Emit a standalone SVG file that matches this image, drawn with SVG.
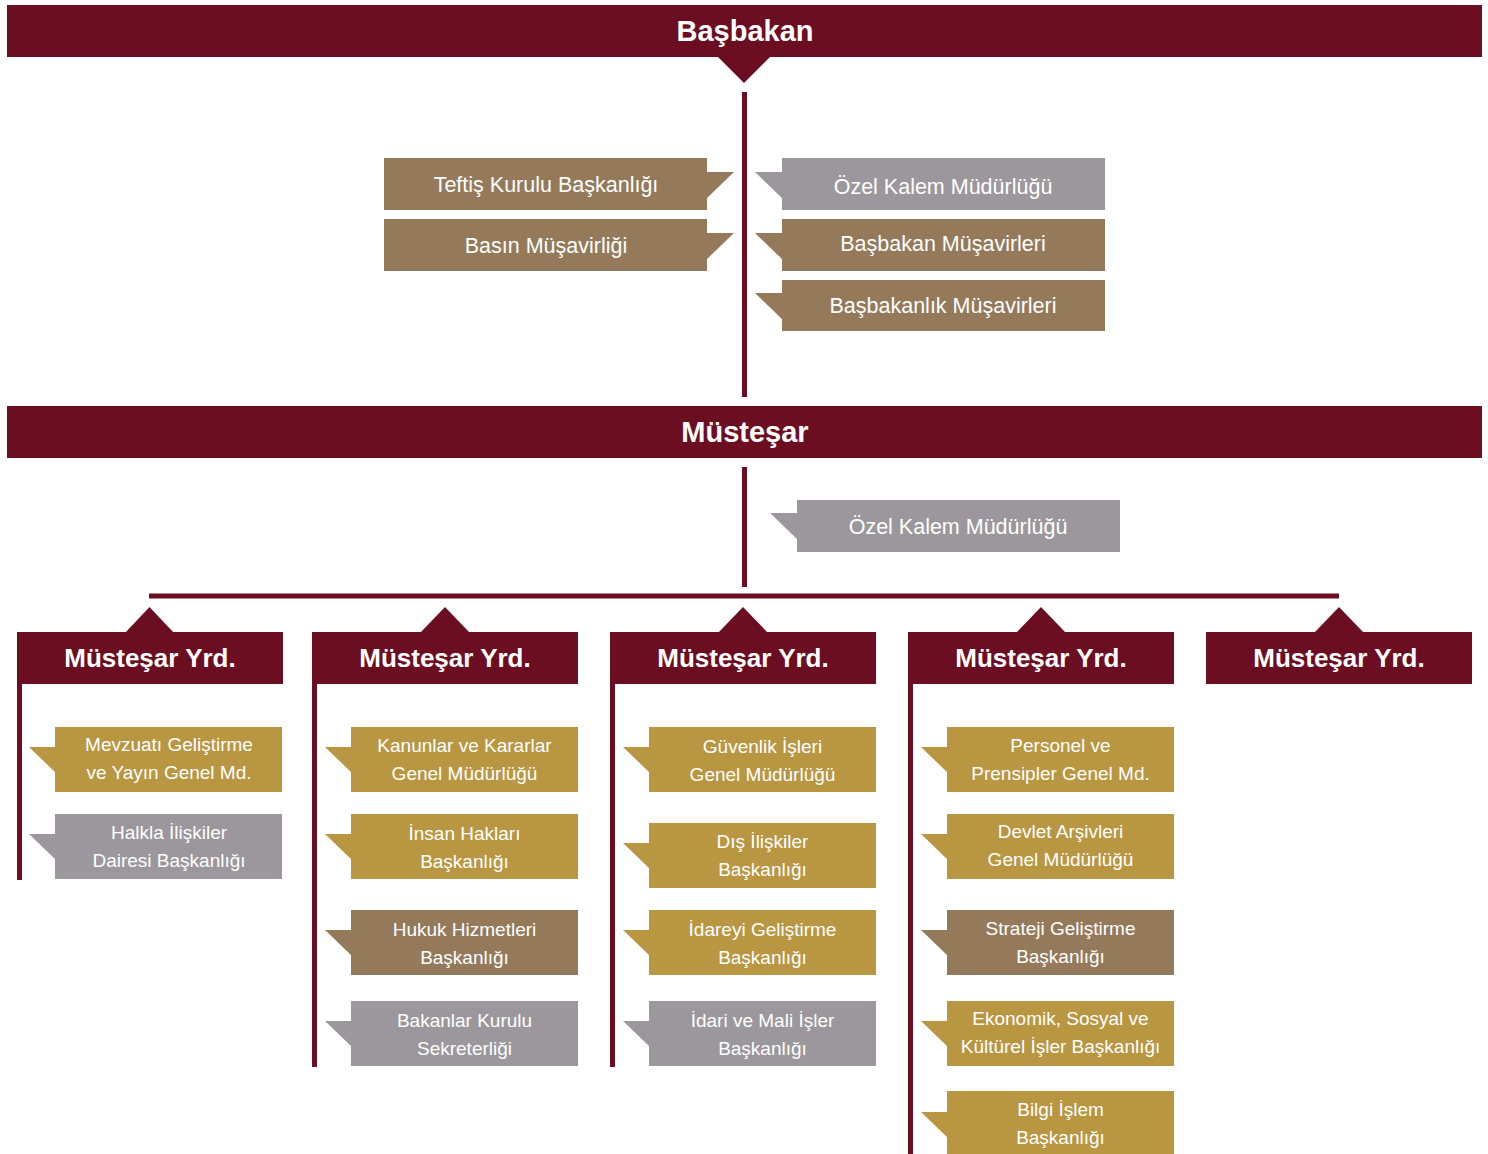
<svg xmlns="http://www.w3.org/2000/svg" width="1488" height="1154" viewBox="0 0 1488 1154">
<style>
.m{fill:#6C0E22}
.tan{fill:#947A5B}
.gray{fill:#9B979C}
.gold{fill:#B99641}
.ln{stroke:#6C0E22;stroke-width:5;fill:none}
text{font-family:"Liberation Sans",Arial,sans-serif;fill:#fff;text-anchor:middle}
.hb{font-size:29px;font-weight:bold}
.hy{font-size:26px;font-weight:bold}
.t1{font-size:21.5px}
.t2{font-size:19px}
</style>
<rect width="1488" height="1154" fill="#fff"/>
<g id="connectors">
<line class="ln" x1="744.5" y1="92" x2="744.5" y2="397"/>
<line class="ln" x1="744.5" y1="467" x2="744.5" y2="587"/>
<line class="ln" x1="149" y1="596" x2="1339" y2="596"/>
<line class="ln" x1="19.5" y1="684" x2="19.5" y2="880"/>
<line class="ln" x1="314.5" y1="684" x2="314.5" y2="1067"/>
<line class="ln" x1="612.5" y1="684" x2="612.5" y2="1067"/>
<line class="ln" x1="910.5" y1="684" x2="910.5" y2="1154"/>
</g>
<g id="basbakan">
<rect class="m" x="7" y="5" width="1475" height="52"/>
<polygon class="m" points="717,56 771,56 744,83"/>
<text class="hb" x="745" y="41">Başbakan</text>
</g>
<g id="teftis">
<rect class="tan" x="384" y="158" width="323" height="52"/>
<polygon class="tan" points="706,172 734,172 706,199"/>
<text class="t1" x="546" y="192">Teftiş Kurulu Başkanlığı</text>
</g>
<g id="basin">
<rect class="tan" x="384" y="219" width="323" height="52"/>
<polygon class="tan" points="706,233 734,233 706,260"/>
<text class="t1" x="546" y="253">Basın Müşavirliği</text>
</g>
<g id="ozelkalem1">
<rect class="gray" x="782" y="158" width="323" height="52"/>
<polygon class="gray" points="783,172 755,172 783,199"/>
<text class="t1" x="943" y="194">Özel Kalem Müdürlüğü</text>
</g>
<g id="bbmusavir">
<rect class="tan" x="782" y="219" width="323" height="52"/>
<polygon class="tan" points="783,233 755,233 783,260"/>
<text class="t1" x="943" y="251">Başbakan Müşavirleri</text>
</g>
<g id="bblikmusavir">
<rect class="tan" x="782" y="280" width="323" height="51"/>
<polygon class="tan" points="783,293 755,293 783,320"/>
<text class="t1" x="943" y="313">Başbakanlık Müşavirleri</text>
</g>
<g id="mustesar">
<rect class="m" x="7" y="406" width="1475" height="52"/>
<text class="hb" x="745" y="442">Müsteşar</text>
</g>
<g id="ozelkalem2">
<rect class="gray" x="797" y="500" width="323" height="52"/>
<polygon class="gray" points="798,513 770,513 798,540"/>
<text class="t1" x="958" y="534">Özel Kalem Müdürlüğü</text>
</g>
<g id="yrd1">
<rect class="m" x="17" y="632" width="266" height="52"/>
<polygon class="m" points="125,633 174,633 149.5,607"/>
<text class="hy" x="150" y="667">Müsteşar Yrd.</text>
</g>
<g id="yrd2">
<rect class="m" x="312" y="632" width="266" height="52"/>
<polygon class="m" points="420,633 470,633 445,607"/>
<text class="hy" x="445" y="667">Müsteşar Yrd.</text>
</g>
<g id="yrd3">
<rect class="m" x="610" y="632" width="266" height="52"/>
<polygon class="m" points="718,633 768,633 743,607"/>
<text class="hy" x="743" y="667">Müsteşar Yrd.</text>
</g>
<g id="yrd4">
<rect class="m" x="908" y="632" width="266" height="52"/>
<polygon class="m" points="1016,633 1066,633 1041,607"/>
<text class="hy" x="1041" y="667">Müsteşar Yrd.</text>
</g>
<g id="yrd5">
<rect class="m" x="1206" y="632" width="266" height="52"/>
<polygon class="m" points="1314,633 1364,633 1339,607"/>
<text class="hy" x="1339" y="667">Müsteşar Yrd.</text>
</g>
<!-- column 1 -->
<g id="mevzuat">
<rect class="gold" x="55" y="727" width="227" height="65"/>
<polygon class="gold" points="56,747 29,747 56,773"/>
<text class="t2" x="169" y="751">Mevzuatı Geliştirme</text>
<text class="t2" x="169" y="779">ve Yayın Genel Md.</text>
</g>
<g id="halkla">
<rect class="gray" x="55" y="814" width="227" height="65"/>
<polygon class="gray" points="56,834 29,834 56,860"/>
<text class="t2" x="169" y="839">Halkla İlişkiler</text>
<text class="t2" x="169" y="867">Dairesi Başkanlığı</text>
</g>
<!-- column 2 -->
<g id="kanunlar">
<rect class="gold" x="351" y="727" width="227" height="65"/>
<polygon class="gold" points="352,747 325,747 352,773"/>
<text class="t2" x="464.5" y="752">Kanunlar ve Kararlar</text>
<text class="t2" x="464.5" y="780">Genel Müdürlüğü</text>
</g>
<g id="insan">
<rect class="gold" x="351" y="814" width="227" height="65"/>
<polygon class="gold" points="352,834 325,834 352,860"/>
<text class="t2" x="464.5" y="840">İnsan Hakları</text>
<text class="t2" x="464.5" y="868">Başkanlığı</text>
</g>
<g id="hukuk">
<rect class="tan" x="351" y="910" width="227" height="65"/>
<polygon class="tan" points="352,930 325,930 352,956"/>
<text class="t2" x="464.5" y="936">Hukuk  Hizmetleri</text>
<text class="t2" x="464.5" y="964">Başkanlığı</text>
</g>
<g id="bakanlar">
<rect class="gray" x="351" y="1001" width="227" height="65"/>
<polygon class="gray" points="352,1021 325,1021 352,1047"/>
<text class="t2" x="464.5" y="1027">Bakanlar Kurulu</text>
<text class="t2" x="464.5" y="1055">Sekreterliği</text>
</g>
<!-- column 3 -->
<g id="guvenlik">
<rect class="gold" x="649" y="727" width="227" height="65"/>
<polygon class="gold" points="650,747 623,747 650,773"/>
<text class="t2" x="762.5" y="753">Güvenlik İşleri</text>
<text class="t2" x="762.5" y="781">Genel Müdürlüğü</text>
</g>
<g id="dis">
<rect class="gold" x="649" y="823" width="227" height="65"/>
<polygon class="gold" points="650,843 623,843 650,869"/>
<text class="t2" x="762.5" y="848">Dış İlişkiler</text>
<text class="t2" x="762.5" y="876">Başkanlığı</text>
</g>
<g id="idareyi">
<rect class="gold" x="649" y="910" width="227" height="65"/>
<polygon class="gold" points="650,930 623,930 650,956"/>
<text class="t2" x="762.5" y="936">İdareyi Geliştirme</text>
<text class="t2" x="762.5" y="964">Başkanlığı</text>
</g>
<g id="idari">
<rect class="gray" x="649" y="1001" width="227" height="65"/>
<polygon class="gray" points="650,1021 623,1021 650,1047"/>
<text class="t2" x="762.5" y="1027">İdari ve Mali İşler</text>
<text class="t2" x="762.5" y="1055">Başkanlığı</text>
</g>
<!-- column 4 -->
<g id="personel">
<rect class="gold" x="947" y="727" width="227" height="65"/>
<polygon class="gold" points="948,747 921,747 948,773"/>
<text class="t2" x="1060.5" y="752">Personel ve</text>
<text class="t2" x="1060.5" y="780">Prensipler Genel Md.</text>
</g>
<g id="arsiv">
<rect class="gold" x="947" y="814" width="227" height="65"/>
<polygon class="gold" points="948,834 921,834 948,860"/>
<text class="t2" x="1060.5" y="838">Devlet Arşivleri</text>
<text class="t2" x="1060.5" y="866">Genel Müdürlüğü</text>
</g>
<g id="strateji">
<rect class="tan" x="947" y="910" width="227" height="65"/>
<polygon class="tan" points="948,930 921,930 948,956"/>
<text class="t2" x="1060.5" y="935">Strateji Geliştirme</text>
<text class="t2" x="1060.5" y="963">Başkanlığı</text>
</g>
<g id="ekonomik">
<rect class="gold" x="947" y="1001" width="227" height="65"/>
<polygon class="gold" points="948,1021 921,1021 948,1047"/>
<text class="t2" x="1060.5" y="1025">Ekonomik, Sosyal ve</text>
<text class="t2" x="1060.5" y="1053">Kültürel İşler Başkanlığı</text>
</g>
<g id="bilgi">
<rect class="gold" x="947" y="1091" width="227" height="63"/>
<polygon class="gold" points="948,1112 921,1112 948,1138"/>
<text class="t2" x="1060.5" y="1116">Bilgi İşlem</text>
<text class="t2" x="1060.5" y="1144">Başkanlığı</text>
</g>
</svg>
